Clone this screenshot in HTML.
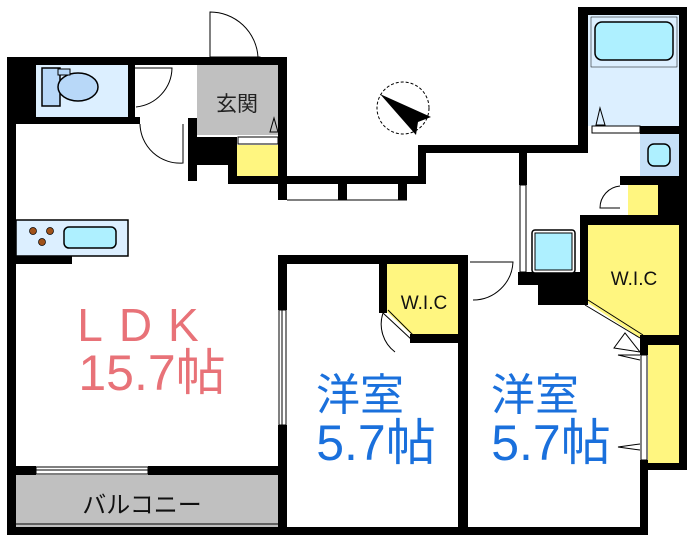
<!DOCTYPE html>
<html><head><meta charset="utf-8"><style>
html,body{margin:0;padding:0;background:#fff;}
svg{display:block}
text{font-family:"Liberation Sans","Noto Sans CJK JP",sans-serif;}
</style></head><body>
<svg width="700" height="544" viewBox="0 0 700 544" xmlns="http://www.w3.org/2000/svg">
<rect width="700" height="544" fill="#fff"/>
<rect x="36" y="65" width="92" height="52" fill="#dcefff"/>
<rect x="197" y="65" width="81" height="70" fill="#c0c0c0"/>
<rect x="237" y="145" width="41" height="31" fill="#fff680"/>
<rect x="16" y="475" width="262" height="52" fill="#c0c0c0"/>
<rect x="16" y="220" width="112" height="36" fill="#dcefff" stroke="#000" stroke-width="1.5"/>
<rect x="588" y="15" width="91" height="111" fill="#dcefff"/>
<rect x="640" y="134" width="39" height="42" fill="#c6e0f8"/>
<rect x="628" y="185" width="30" height="30" fill="#fff680"/>
<polygon points="588,225 679,225 679,335 640,338 588,303" fill="#fff680"/>
<polygon points="387,264 458,264 458,335 412,335 387,312" fill="#fff680"/>
<rect x="648" y="345" width="31" height="118" fill="#fff680"/>
<g fill="#000">
<rect x="7" y="57" width="280" height="8"/>
<rect x="7" y="57" width="9" height="477"/>
<rect x="7" y="57" width="29" height="65"/>
<rect x="16" y="117" width="124" height="7"/>
<rect x="128" y="65" width="7" height="52"/>
<rect x="278" y="57" width="9" height="127"/>
<rect x="188" y="118" width="9" height="63"/>
<rect x="188" y="137" width="49" height="28"/>
<rect x="228" y="137" width="9" height="47"/>
<rect x="228" y="176" width="198" height="8"/>
<rect x="278" y="184" width="9" height="16"/>
<rect x="338" y="184" width="9" height="16"/>
<rect x="398" y="184" width="9" height="16"/>
<rect x="418" y="145" width="8" height="39"/>
<rect x="418" y="145" width="170" height="8"/>
<rect x="578" y="7" width="10" height="146"/>
<rect x="578" y="7" width="109" height="8"/>
<rect x="679" y="7" width="8" height="458"/>
<rect x="640" y="126" width="39" height="8"/>
<rect x="519" y="153" width="8" height="32"/>
<rect x="620" y="176" width="59" height="9"/>
<rect x="658" y="176" width="21" height="49"/>
<rect x="580" y="215" width="99" height="10"/>
<rect x="580" y="215" width="8" height="90"/>
<rect x="518" y="272" width="22" height="13"/>
<rect x="538" y="272" width="50" height="33"/>
<rect x="640" y="335" width="47" height="10"/>
<rect x="640" y="345" width="8" height="10"/>
<rect x="640" y="460" width="8" height="75"/>
<rect x="645" y="463" width="42" height="7"/>
<rect x="7" y="527" width="641" height="8"/>
<rect x="278" y="255" width="9" height="55"/>
<rect x="278" y="425" width="9" height="110"/>
<rect x="278" y="255" width="190" height="9"/>
<rect x="458" y="255" width="10" height="280"/>
<rect x="379" y="255" width="8" height="58"/>
<rect x="410" y="334" width="58" height="9"/>
<rect x="16" y="466" width="20" height="9"/>
<rect x="148" y="466" width="130" height="9"/>
<rect x="16" y="256" width="56" height="8"/>
</g>
<g fill="none" stroke="#000" stroke-width="1">
<line x1="287" y1="200" x2="407" y2="200"/>
<rect x="36" y="467" width="112" height="7"/>
<line x1="36" y1="470" x2="148" y2="470"/>
<rect x="279" y="310" width="7" height="115"/>
<line x1="282" y1="310" x2="282" y2="425"/>
<rect x="520" y="185" width="6" height="87"/>
<line x1="16" y1="524" x2="278" y2="524"/>
<line x1="287" y1="528" x2="458" y2="528"/>
<line x1="468" y1="528" x2="640" y2="528"/>
<rect x="641" y="355" width="6" height="105"/>
<line x1="585" y1="305" x2="640" y2="338"/>
<line x1="588" y1="300" x2="643" y2="335"/>
<line x1="383" y1="313" x2="412" y2="340"/>
<line x1="388" y1="310" x2="414" y2="336"/>
<rect x="210" y="57" width="50" height="6"/>
<path d="M210,57 L210,12 A48,48 0 0 1 258,57"/>
<path d="M135,68 L172,68 A40,40 0 0 1 136,107"/>
<path d="M140,124 A40,40 0 0 0 183,163 L183,124"/>
<path d="M473,300 A40,40 0 0 0 513,262 L470,262"/>
<path d="M620,186 A22,22 0 0 0 600,208 L620,208"/>
<path d="M383,313 A35,35 0 0 0 395,352"/>
<rect x="238" y="137" width="40" height="7"/>
<rect x="592" y="126" width="48" height="7"/>
<path d="M270,132 L274,118 L278,132Z"/>
<path d="M596,125 L600,108 L605,125Z"/>
<path d="M640,352 L614,348 L625,333Z"/>
<path d="M640,360 L618,355 L640,355"/>
<path d="M640,450 L618,447 L640,444"/>
</g>
<rect x="42" y="68" width="18" height="38" fill="#b8d8f8" stroke="#000" stroke-width="1.5"/>
<ellipse cx="78" cy="87" rx="20" ry="14" fill="#b8d8f8" stroke="#000" stroke-width="1.5"/>
<rect x="58" y="69" width="12" height="6" fill="#b8d8f8" stroke="#000" stroke-width="1"/>
<rect x="595" y="22" width="78" height="38" rx="7" fill="#aef0ff" stroke="#000" stroke-width="1.5"/>
<rect x="591" y="17" width="86" height="50" fill="none" stroke="#000" stroke-width="0.5"/>
<rect x="648" y="144" width="22" height="22" rx="6" fill="#aef0ff" stroke="#000" stroke-width="1.5"/>
<rect x="532" y="230" width="43" height="43" rx="3" fill="#fff" stroke="#000" stroke-width="1.5"/>
<rect x="535" y="233" width="37" height="37" fill="#aef0ff" stroke="#000" stroke-width="1"/>
<rect x="64" y="227" width="52" height="21" rx="5" fill="#aef0ff" stroke="#000" stroke-width="1.5"/>
<g fill="#a0521a" stroke="#000" stroke-width="0.7">
<circle cx="33" cy="231" r="3.5"/><circle cx="50" cy="231" r="3.5"/><circle cx="42" cy="242" r="3.5"/>
</g>
<circle cx="403" cy="108" r="26" fill="none" stroke="#000" stroke-width="1" stroke-dasharray="3,2"/>
<path d="M380,94 L431,117 L418,122 L416,135 Z" fill="#000"/>
<text x="237" y="111" font-size="21" text-anchor="middle" fill="#222">玄関</text>
<text x="424" y="309" font-size="19" text-anchor="middle" fill="#111">W.I.C</text>
<text x="634" y="285" font-size="19" text-anchor="middle" fill="#111">W.I.C</text>
<text x="146" y="341" font-size="46" text-anchor="middle" fill="#e87278" letter-spacing="16">LDK</text>
<text x="152" y="390" font-size="50" text-anchor="middle" fill="#e87278">15.7帖</text>
<text x="360" y="410" font-size="44" text-anchor="middle" fill="#1a70dc">洋室</text>
<text x="376" y="460" font-size="50" text-anchor="middle" fill="#1a70dc">5.7帖</text>
<text x="535" y="410" font-size="44" text-anchor="middle" fill="#1a70dc">洋室</text>
<text x="551" y="460" font-size="50" text-anchor="middle" fill="#1a70dc">5.7帖</text>
<text x="142" y="513" font-size="24" text-anchor="middle" fill="#111">バルコニー</text>
</svg>
</body></html>
